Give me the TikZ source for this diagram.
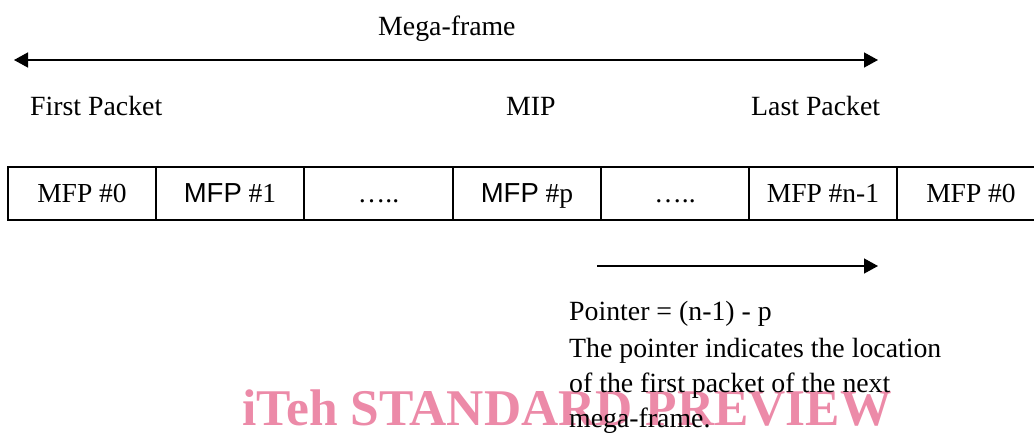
\documentclass[tikz,border=0pt]{standalone}
\usepackage{fontspec}
\setmainfont{Liberation Serif}
\newfontfamily\arialf{Liberation Sans}
\usetikzlibrary{arrows.meta}
\definecolor{wm}{RGB}{236,138,168}
\tikzset{
  cell/.style={draw=black,line width=1.8pt,minimum width=148pt,minimum height=53pt,inner sep=0pt,outer sep=0pt},
  lbl/.style={anchor=base west,inner sep=0pt,font=\fontsize{27.8}{35}\selectfont},
  celltext/.style={anchor=base,inner sep=0pt,font=\fontsize{27.5}{35}\selectfont},
  arr/.style={line width=1.4pt,-{Triangle[length=14pt,width=15pt]}},
  darr/.style={line width=1.4pt,{Triangle[length=14pt,width=15pt]}-{Triangle[length=14pt,width=15pt]}}
}
\begin{document}
\begin{tikzpicture}[x=1pt,y=-1pt]
\useasboundingbox (0,0) rectangle (1034,432);
% watermark
\node[anchor=base west,inner sep=0pt,text=wm,font=\fontsize{51.5}{52}\selectfont\bfseries] (wmark) at (242,425) {iTeh STANDARD PREVIEW};
% top labels
\node[lbl] (mf) at (378,35) {Mega-frame};
\coordinate (mfl) at (14,60);
\coordinate (mfr) at (878,60);
\draw[darr] (mfl) -- (mfr);
\node[lbl] (fp) at (30,115) {First Packet};
\node[lbl] (mip) at (506,115) {MIP};
\node[lbl] (lp) at (751,115) {Last Packet};
% cells
\node[cell] (c0) at (82,193.5) {};
\node[cell] (c1) at (230,193.5) {};
\node[cell] (c2) at (378.5,193.5) {};
\node[cell] (c3) at (527,193.5) {};
\node[cell] (c4) at (675,193.5) {};
\node[cell] (c5) at (823,193.5) {};
\node[cell] (c6) at (971,193.5) {};
\node[celltext] (t0) at (82,202) {MFP \#0};
\node[celltext] (t1) at (230,202) {{\arialf MFP} \#1};
\node[celltext] (t2) at (378.5,202) {\dots..};
\node[celltext] (t3) at (527,202) {{\arialf MFP} \#p};
\node[celltext] (t4) at (675,202) {\dots..};
\node[celltext] (t5) at (823,202) {MFP \#n-1};
\node[celltext] (t6) at (971,202) {MFP \#0};
% pointer arrow
\coordinate (pa) at (597,266);
\coordinate (pb) at (878,266);
\draw[arr] (pa) -- (pb);
\node[lbl] (p1) at (569,320) {Pointer = (n-1) - p};
\node[lbl] (p2) at (569,357) {The pointer indicates the location};
\node[lbl] (p3) at (569,392) {of the first packet of the next};
\node[lbl] (p4) at (569,427) {mega-frame.};
\end{tikzpicture}
\end{document}
